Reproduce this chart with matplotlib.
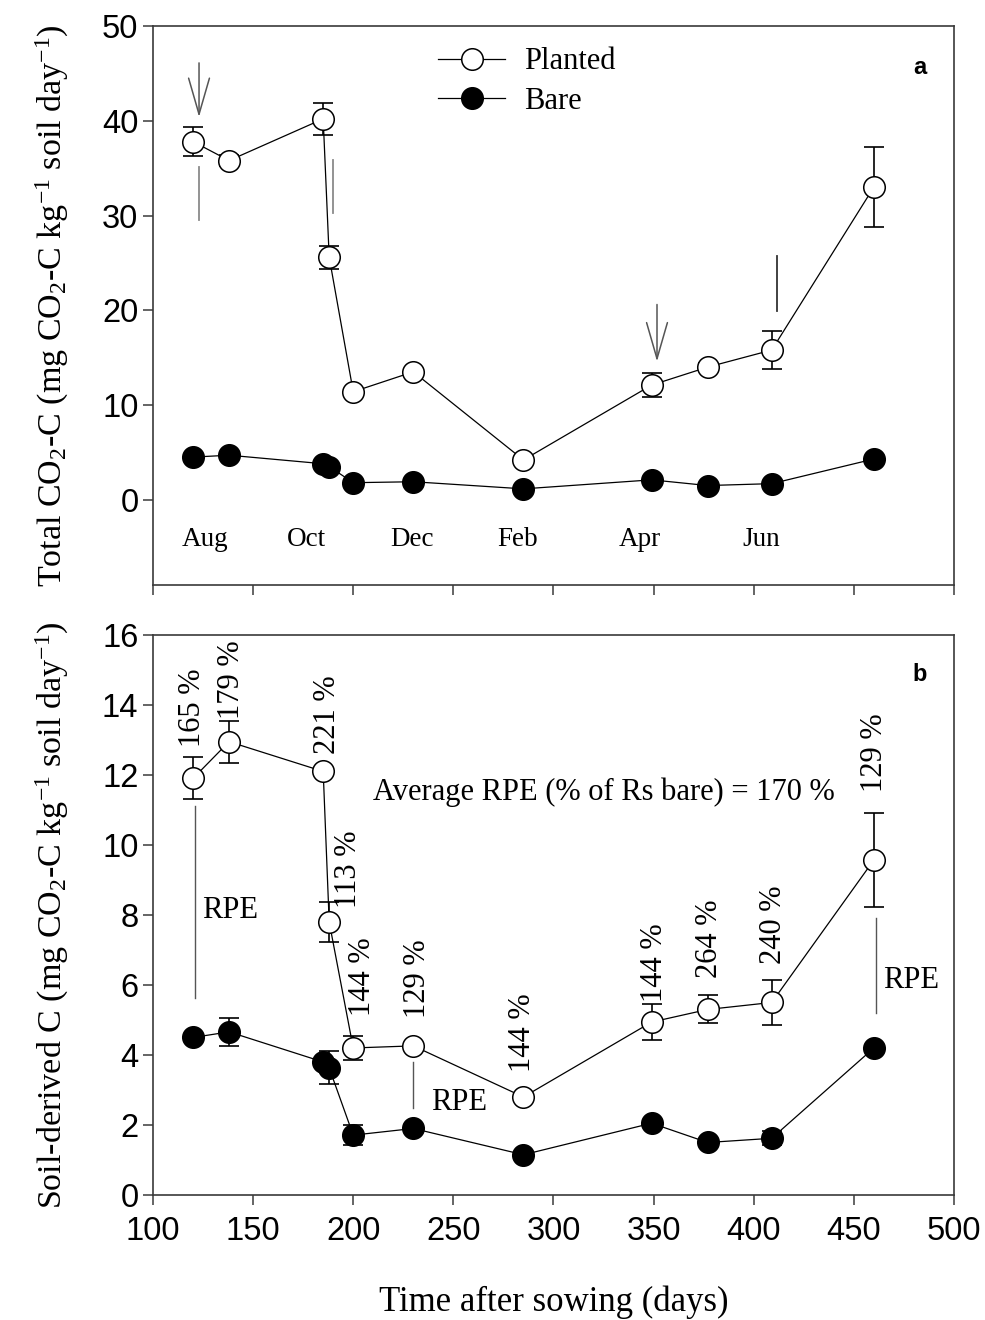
import matplotlib
matplotlib.use("Agg")
import matplotlib.pyplot as plt
import numpy as np

# ---------------- data ----------------
days = [120, 138, 185, 188, 200, 230, 285, 349, 377, 409, 460]

# panel a: total CO2-C
planted_total = [37.8, 35.8, 40.2, 25.6, 11.4, 13.5, 4.2, 12.1, 14.0, 15.8, 33.0]
planted_total_err = [1.5, 0.6, 1.7, 1.2, 0.0, 0.0, 0.0, 1.3, 0.4, 2.0, 4.25]
bare_total = [4.5, 4.7, 3.8, 3.5, 1.8, 1.9, 1.15, 2.1, 1.5, 1.7, 4.3]
bare_total_err = [0, 0, 0, 0, 0, 0, 0, 0, 0, 0, 0]

# panel b: soil-derived C
planted_soil = [11.9, 12.95, 12.1, 7.8, 4.2, 4.26, 2.8, 4.94, 5.3, 5.5, 9.57]
planted_soil_err = [0.6, 0.6, 0.0, 0.58, 0.33, 0.0, 0.0, 0.52, 0.4, 0.65, 1.35]
bare_soil = [4.5, 4.66, 3.8, 3.63, 1.71, 1.9, 1.15, 2.05, 1.5, 1.62, 4.2]
bare_soil_err = [0.0, 0.4, 0.0, 0.47, 0.29, 0.0, 0.0, 0.0, 0.0, 0.2, 0.0]

rpe_labels = ["165 %", "179 %", "221 %", "113 %", "144 %", "129 %",
              "144 %", "144 %", "264 %", "240 %", "129 %"]
rpe_label_x = [119.5, 139.4, 187.3, 197.8, 204.7, 232.2, 284.5, 350.4, 377.8, 409.7, 460.1]
rpe_label_y = [12.8, 13.6, 12.6, 8.2, 5.1, 5.06, 3.5, 5.5, 6.2, 6.6, 11.5]

months = ["Aug", "Oct", "Dec", "Feb", "Apr", "Jun"]
month_x = [126, 176.6, 229.2, 282.3, 342.9, 403.7]
month_y = -4.2

xticks = [100, 150, 200, 250, 300, 350, 400, 450, 500]
yticks_a = [0, 10, 20, 30, 40, 50]
yticks_b = [0, 2, 4, 6, 8, 10, 12, 14, 16]

# ---------------- style ----------------
plt.rcParams['mathtext.fontset'] = 'custom'
plt.rcParams['mathtext.rm'] = 'Liberation Serif'
plt.rcParams['mathtext.it'] = 'Liberation Serif:italic'
plt.rcParams['mathtext.bf'] = 'Liberation Serif:bold'
SERIF = 'Liberation Serif'
SANS = 'Liberation Sans'
spine_col = '#3a3a3a'
TXT = 22

fig = plt.figure(figsize=(9.85, 13.2), dpi=100)
ax1 = fig.add_axes([0.1553, 0.5568, 0.8132, 0.4235])
ax2 = fig.add_axes([0.1553, 0.0947, 0.8132, 0.4243])

ms = 15.5
mew = 1.1
lw = 0.9


def draw_series(ax, x, y, err, filled, label=None):
    x = np.asarray(x); y = np.asarray(y); err = np.asarray(err, dtype=float)
    m = err > 0
    if m.any():
        ax.errorbar(x[m], y[m], yerr=err[m], fmt='none', ecolor='black',
                    elinewidth=1.2, capsize=7, capthick=1.2, zorder=2)
    ax.plot(x, y, '-', color='black', lw=lw, marker='o', ms=ms,
            mfc='black' if filled else 'white', mec='black', mew=mew,
            zorder=3, label=label)


for ax in (ax1, ax2):
    for s in ax.spines.values():
        s.set_color(spine_col)
        s.set_linewidth(1.2)
    ax.set_xlim(100, 500)
    ax.set_xticks(xticks)
    ax.tick_params(direction='out', length=7, width=1.1, color=spine_col,
                   labelsize=23.5, top=False, right=False)
    ax.tick_params(axis='x', pad=8)
    for lab in ax.get_xticklabels() + ax.get_yticklabels():
        lab.set_fontfamily(SANS)

# ---------- panel a ----------
draw_series(ax1, days, planted_total, planted_total_err, False, 'Planted')
draw_series(ax1, days, bare_total, bare_total_err, True, 'Bare')
ax1.set_ylim(-9, 50)
ax1.set_yticks(yticks_a)
ax1.set_xticklabels([])
ax1.set_ylabel(r'Total CO$_2$-C (mg CO$_2$-C kg$^{-1}$ soil day$^{-1}$)',
               fontfamily=SERIF, fontsize=24.5, labelpad=22)

for mname, mx in zip(months, month_x):
    ax1.text(mx, month_y, mname, ha='center', va='center',
             fontfamily=SERIF, fontsize=19.5)

# arrows (open heads) and marker lines
arrow_kw = dict(arrowstyle='->,head_length=2.6,head_width=0.75',
                color='#555555', lw=1.1, mutation_scale=10)
ax1.annotate('', xy=(123, 40.1), xytext=(123, 46.4), arrowprops=arrow_kw)
ax1.annotate('', xy=(351.7, 14.3), xytext=(351.7, 20.9), arrowprops=arrow_kw)
ax1.plot([123, 123], [29.5, 35.1], color='#8a8a8a', lw=1.3)
ax1.plot([190, 190], [30.3, 35.9], color='#8a8a8a', lw=1.3)
ax1.plot([411.7, 411.7], [19.9, 25.7], color='#333333', lw=1.3)

leg = ax1.legend(loc='upper left', bbox_to_anchor=(0.356, 0.962), frameon=False,
                 prop={'family': SERIF, 'size': TXT}, handlelength=2.2,
                 handletextpad=0.6, labelspacing=0.35, borderpad=0,
                 borderaxespad=0)
ax1.text(0.957, 0.925, 'a', transform=ax1.transAxes, ha='center', va='center',
         fontfamily=SANS, fontweight='bold', fontsize=17)

# ---------- panel b ----------
draw_series(ax2, days, planted_soil, planted_soil_err, False)
draw_series(ax2, days, bare_soil, bare_soil_err, True)
ax2.set_ylim(0, 16)
ax2.set_yticks(yticks_b)
ax2.set_xlabel('Time after sowing (days)', fontfamily=SERIF, fontsize=25,
               labelpad=28)
ax2.set_ylabel(r'Soil-derived C (mg CO$_2$-C kg$^{-1}$ soil day$^{-1}$)',
               fontfamily=SERIF, fontsize=24.5, labelpad=22)

for txt, tx, ty in zip(rpe_labels, rpe_label_x, rpe_label_y):
    ax2.text(tx, ty, txt, rotation=90, ha='center', va='bottom',
             fontfamily=SERIF, fontsize=TXT)

ax2.text(325, 11.51, 'Average RPE (% of Rs bare) = 170 %', ha='center',
         va='center', fontfamily=SERIF, fontsize=TXT)

rpe_line_col = '#555555'
ax2.plot([121, 121], [5.63, 11.1], color=rpe_line_col, lw=1.0)
ax2.plot([229.7, 229.7], [2.49, 3.8], color=rpe_line_col, lw=1.0)
ax2.plot([461, 461], [5.2, 7.9], color=rpe_line_col, lw=1.0)
ax2.text(138.4, 8.14, 'RPE', ha='center', va='center', fontfamily=SERIF, fontsize=TXT)
ax2.text(253, 2.63, 'RPE', ha='center', va='center', fontfamily=SERIF, fontsize=TXT)
ax2.text(478.5, 6.14, 'RPE', ha='center', va='center', fontfamily=SERIF, fontsize=TXT)

ax2.text(0.957, 0.929, 'b', transform=ax2.transAxes, ha='center', va='center',
         fontfamily=SANS, fontweight='bold', fontsize=17)

fig.align_ylabels([ax1, ax2])
fig.savefig('out.png', dpi=100, facecolor='white')
